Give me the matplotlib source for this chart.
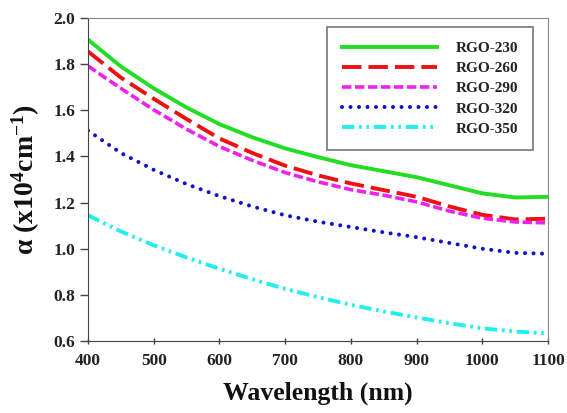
import matplotlib
matplotlib.use("Agg")
import matplotlib.pyplot as plt

plt.rcParams['font.family'] = ['Liberation Serif', 'DejaVu Serif']
plt.rcParams['font.weight'] = 'bold'
plt.rcParams['mathtext.fontset'] = 'custom'
plt.rcParams['mathtext.rm'] = 'Liberation Serif:bold'
plt.rcParams['mathtext.bf'] = 'Liberation Serif:bold'
plt.rcParams['mathtext.it'] = 'Liberation Serif:bold'

wavelength = [400, 450, 500, 550, 600, 650, 700, 750, 800, 850, 900, 950, 1000, 1050, 1100]
rgo_230 = [1.906, 1.79, 1.695, 1.612, 1.54, 1.483, 1.435, 1.397, 1.362, 1.336, 1.31, 1.275, 1.24, 1.222, 1.225]
rgo_260 = [1.855, 1.742, 1.65, 1.562, 1.478, 1.415, 1.36, 1.318, 1.283, 1.254, 1.225, 1.183, 1.147, 1.127, 1.13]
rgo_290 = [1.792, 1.695, 1.602, 1.518, 1.443, 1.383, 1.33, 1.29, 1.256, 1.232, 1.203, 1.163, 1.132, 1.116, 1.112]
rgo_320 = [1.512, 1.415, 1.342, 1.28, 1.228, 1.183, 1.145, 1.117, 1.094, 1.071, 1.05, 1.025, 1.0, 0.982, 0.978]
rgo_350 = [1.145, 1.075, 1.015, 0.962, 0.913, 0.868, 0.826, 0.79, 0.757, 0.728, 0.702, 0.677, 0.655, 0.641, 0.633]
labels = ['RGO-230', 'RGO-260', 'RGO-290', 'RGO-320', 'RGO-350']
xticks = [400, 500, 600, 700, 800, 900, 1000, 1100]
yticks = [0.6, 0.8, 1.0, 1.2, 1.4, 1.6, 1.8, 2.0]

fig = plt.figure(figsize=(5.67, 4.13), dpi=100)
ax = fig.add_axes([88/567, 1-341/413, (548-88)/567, (341-18)/413])

series = [rgo_230, rgo_260, rgo_290, rgo_320, rgo_350]
colors = ['#22dd22', '#ee1111', '#ee22ee', '#1111cc', '#22eeee']
styles = ['-', (0, (5, 1.8)), (0, (2.6, 1.0)), (0, (0.01, 2.1)), (0, (3.2, 1.2, 0.7, 1.2, 0.7, 1.2))]
caps = ['butt', 'butt', 'butt', 'round', 'butt']
widths = [2.8, 2.8, 2.6, 2.9, 2.8]
for ys, c, ls, lab, cap, lw in zip(series, colors, styles, labels, caps, widths):
    ax.plot(wavelength, ys, color=c, linestyle=ls, linewidth=lw, label=lab,
            dash_capstyle=cap, solid_joinstyle='round', dash_joinstyle='round')

ax.set_xlim(400, 1100)
ax.set_ylim(0.6, 2.0)
ax.set_xticks(xticks)
ax.set_yticks(yticks)
ax.set_xticklabels([str(v) for v in xticks])
ax.set_yticklabels([f"{v:.1f}" for v in yticks])
ax.tick_params(axis='x', direction='inout', length=5, width=1, labelsize=12.5, pad=6, colors='#444444', labelcolor='#222222')
ax.tick_params(axis='y', direction='out', length=6, width=1, labelsize=12.5, pad=3, colors='#444444', labelcolor='#222222')
for s in ['left', 'bottom']:
    ax.spines[s].set_color('#444444')
for s in ['top', 'right']:
    ax.spines[s].set_color('#888888')

ax.set_xlabel('Wavelength (nm)', fontsize=18.5, fontweight='bold', labelpad=9, color='#111111')
ax.set_ylabel(r'α (x10$^{\mathbf{4}}$cm$^{\mathbf{-1}}$)', fontsize=20, fontweight='bold', labelpad=8, color='#111111')

leg = ax.legend(loc='upper right', bbox_to_anchor=(0.967, 0.972), fontsize=11, frameon=True,
                fancybox=False, edgecolor='#555555', handlelength=6.2, borderpad=0.95,
                labelspacing=0.42, handletextpad=1.25, borderaxespad=0)
leg.get_frame().set_linewidth(1.2)
for t in leg.get_texts():
    t.set_fontweight('bold')
    t.set_color('#222222')

fig.savefig('out.png', dpi=100)
